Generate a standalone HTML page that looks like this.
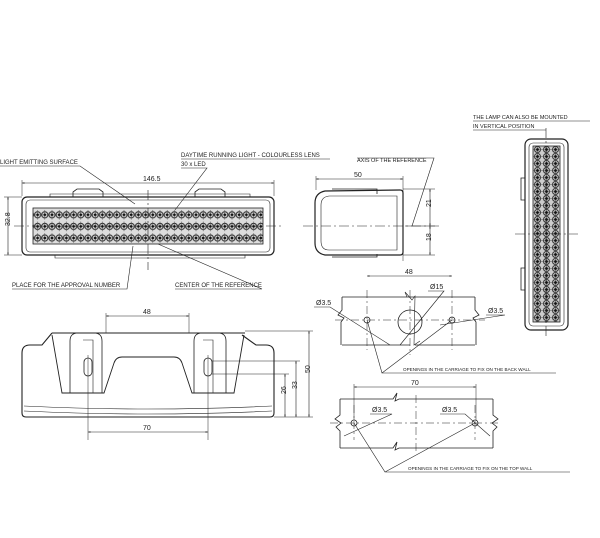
<!DOCTYPE html>
<html><head><meta charset="utf-8"><style>
html,body{margin:0;padding:0;background:#fff;width:600px;height:538px;overflow:hidden}
svg{display:block}
text{font-family:"Liberation Sans",sans-serif;fill:#222}
.t{font-size:6px}
.d{font-size:7px}
</style></head><body>
<svg width="600" height="538" viewBox="0 0 600 538" xmlns="http://www.w3.org/2000/svg">
<defs>
<pattern id="led" x="34" y="209" width="7.2" height="11.6" patternUnits="userSpaceOnUse">
<rect width="7.2" height="11.6" fill="#ddd"/>
<circle cx="3.6" cy="5.8" r="3.1" fill="none" stroke="#333" stroke-width="1.1"/>
<path d="M3.6,1 V10.6 M0,5.8 H7.2" stroke="#555" stroke-width="0.6"/>
<circle cx="3.6" cy="5.8" r="1.3" fill="#111"/>
</pattern>
<pattern id="ledv" x="533" y="146" width="9" height="7" patternUnits="userSpaceOnUse">
<rect width="9" height="7" fill="#ccc"/>
<circle cx="4.5" cy="3.5" r="3" fill="none" stroke="#333" stroke-width="1"/>
<path d="M4.5,0 V7 M0,3.5 H9" stroke="#555" stroke-width="0.6"/>
<circle cx="4.5" cy="3.5" r="1.4" fill="#111"/>
</pattern>
<marker id="a" viewBox="0 0 10 10" refX="10" refY="5" markerWidth="6" markerHeight="4" orient="auto-start-reverse"><path d="M0,2 L10,5 L0,8z" fill="#222"/></marker>
</defs>
<g fill="none" stroke="#222" stroke-width="0.8">
<!-- FRONT VIEW -->
<path d="M73,197 v-5 l4,-3 h22 l4,3 v5 M195,197 v-5 l4,-3 h22 l4,3 v5"/>
<path d="M50,197 v-3 h200 v3" stroke-width="0.6"/>
<rect x="22" y="197" width="252" height="58" rx="5" stroke-width="1.2"/>
<rect x="26" y="200" width="244" height="52" rx="4" stroke-width="0.6"/>
<rect x="33" y="208" width="230" height="36" fill="url(#led)"/>
<path d="M55,255 v3 h190 v-3" stroke-width="0.6"/>
<path d="M14,226 H282 M148,190 V270" stroke-dasharray="10,3,2,3" stroke-width="0.6"/>
<line x1="22" y1="183" x2="274" y2="183" marker-start="url(#a)" marker-end="url(#a)" stroke-width="0.6"/>
<path d="M22,180 v16 M274,180 v16 M4,197 h18 M4,255 h18" stroke-width="0.5"/>
<line x1="8" y1="197" x2="8" y2="255" marker-start="url(#a)" marker-end="url(#a)" stroke-width="0.6"/>
<path d="M0,166 H80 L135,204 M181,159 H330 M181,168 H207 L175,210 M12,289 H127 L133,246 M175,289 H262 L158,244" stroke-width="0.6"/>
<!-- SIDE VIEW -->
<path d="M332,189 h45 v5 M332,257 h45 v-3" stroke-width="0.8"/>
<path d="M325,191 q-10,2 -10,12 v40 q0,10 10,12 h75 q3,0 3,-3 v-59 q0,-3 -3,-3 z" stroke-width="1.2"/>
<path d="M329,196 q-8,1 -8,9 v36 q0,9 8,9 h68 v-54 z" stroke-width="0.6"/>
<path d="M303,226 H440" stroke-dasharray="10,3,2,3" stroke-width="0.6"/>
<line x1="316" y1="179" x2="403" y2="179" marker-start="url(#a)" marker-end="url(#a)" stroke-width="0.6"/>
<path d="M316,176 v14 M403,176 v85 M403,189 h32 M403,255 h32 M405,226 h30" stroke-width="0.5"/>
<line x1="430" y1="189" x2="430" y2="226" marker-start="url(#a)" marker-end="url(#a)" stroke-width="0.6"/>
<line x1="430" y1="226" x2="430" y2="255" marker-start="url(#a)" marker-end="url(#a)" stroke-width="0.6"/>
<path d="M357,158 H434 L412,226" stroke-width="0.6"/>
<!-- VERTICAL LAMP -->
<rect x="525" y="139" width="43" height="191" rx="6" stroke-width="1.2"/>
<rect x="529" y="143" width="35" height="183" rx="4" stroke-width="0.6"/>
<rect x="533" y="146" width="27" height="176" fill="url(#ledv)"/>
<path d="M525,178 h-4 v22 h4 M525,268 h-4 v22 h4" stroke-width="0.8"/>
<path d="M546,128 V336 M515,234 H578" stroke-dasharray="10,3,2,3" stroke-width="0.6"/>
<path d="M473,121 H590 M473,130 H546" stroke-width="0.6"/>
<!-- BACK WALL -->
<path d="M342,297 H475 M342,345 H410 M415,345 H475 M342,297 v13 l-4,5 l6,3 l-3,4 v23 M475,297 v13 l4,5 l-6,3 l3,4 v23"/>
<path d="M407,297 l-2,-5 l7,8 l3,-4 l-1,49 l6,-4" stroke-width="0.6"/>
<circle cx="410" cy="322" r="12"/>
<circle cx="367" cy="320" r="3"/><circle cx="452" cy="320" r="3"/>
<path d="M335,320 H485 M367,290 V350 M452,290 V350 M410,290 V355" stroke-dasharray="8,3,2,3" stroke-width="0.5"/>
<line x1="367" y1="276" x2="452" y2="276" marker-start="url(#a)" marker-end="url(#a)" stroke-width="0.6"/>
<path d="M314,307 H330 L390,345 M428,291 H444 L400,345 M486,315 H505 L440,325 M367,320 L382,373 L452,320 M382,373 H556" stroke-width="0.6"/>
<!-- TOP WALL -->
<path d="M340,399 H393 l4,-6 l-2,8 l4,-2 H493 M340,448 H393 l4,-6 l-2,8 l4,-2 H493 M340,399 v16 l-5,4 l6,4 l-5,4 l4,4 v17 M493,399 v16 l5,4 l-6,4 l5,4 l-4,4 v17"/>
<circle cx="354" cy="423" r="3"/><circle cx="475" cy="423" r="3"/>
<path d="M330,423 H500 M416,395 V452 M354,405 V440 M475,405 V440" stroke-dasharray="8,3,2,3" stroke-width="0.5"/>
<line x1="354" y1="387" x2="476" y2="387" marker-start="url(#a)" marker-end="url(#a)" stroke-width="0.6"/>
<path d="M354,384 v36 M476,384 v36" stroke-width="0.5"/>
<path d="M370,414 H392 L344,436 M440,414 H465 L490,436 M354,423 L385,472 L475,423 M385,472 H570" stroke-width="0.6"/>
<!-- TOP VIEW -->
<path d="M52,333 H245 M30,345 q-8,0 -8,8 v60 q0,4 4,4 h244 q4,0 4,-4 v-60 q0,-8 -8,-8 h-10 l-14,-10 M30,345 h12 l10,-12" stroke-width="1.1"/>
<path d="M24,406 q124,6 248,0 M24,411 q124,6 248,0" stroke-width="0.6"/>
<path d="M52,335 L62,393 h42 l10,-30 q2,-6 8,-6 h52 q6,0 8,6 l10,30 h42 l10,-58" stroke-width="0.9"/>
<path d="M70,393 v-52 q0,-8 8,-8 h16 q8,0 8,8 v52 M194,393 v-52 q0,-8 8,-8 h16 q8,0 8,8 v52" stroke-width="0.8"/>
<path d="M83,340 h10 v53 M203,340 h10 v53" stroke-width="0.6"/>
<rect x="84" y="358" width="8" height="18" rx="4"/><rect x="204" y="358" width="8" height="18" rx="4"/>
<path d="M88,355 V440 M208,355 V440" stroke-width="0.5"/>
<line x1="106" y1="316" x2="189" y2="316" marker-start="url(#a)" marker-end="url(#a)" stroke-width="0.6"/>
<path d="M106,313 v20 M189,313 v20" stroke-width="0.5"/>
<line x1="88" y1="432" x2="208" y2="432" marker-start="url(#a)" marker-end="url(#a)" stroke-width="0.6"/>
<path d="M245,331 H313 M212,361 H300 M212,374 H289 M274,417 H313" stroke-width="0.5"/>
<line x1="309" y1="331" x2="309" y2="417" marker-start="url(#a)" marker-end="url(#a)" stroke-width="0.6"/>
<line x1="296" y1="361" x2="296" y2="417" marker-start="url(#a)" marker-end="url(#a)" stroke-width="0.6"/>
<line x1="285" y1="374" x2="285" y2="417" marker-start="url(#a)" marker-end="url(#a)" stroke-width="0.6"/>
</g>
<g class="t">
<text x="0" y="164">LIGHT EMITTING SURFACE</text>
<text x="181" y="157">DAYTIME RUNNING LIGHT - COLOURLESS LENS</text>
<text x="181" y="166">30 x LED</text>
<text x="12" y="287">PLACE FOR THE APPROVAL NUMBER</text>
<text x="175" y="287">CENTER OF THE REFERENCE</text>
<text x="357" y="162" style="font-size:5.5px">AXIS OF THE REFERENCE</text>
<text x="473" y="119" style="font-size:5.5px">THE LAMP CAN ALSO BE MOUNTED</text>
<text x="473" y="128" style="font-size:5.5px">IN VERTICAL POSITION</text>
<text x="403" y="371" style="font-size:4.6px">OPENINGS IN THE CARRIAGE TO FIX ON THE BACK WALL</text>
<text x="408" y="470" style="font-size:4.6px">OPENINGS IN THE CARRIAGE TO FIX ON THE TOP WALL</text>
</g>
<g class="d">
<text x="143" y="181">146.5</text>
<text x="6" y="230" transform="rotate(-90 6 226)">32.8</text>
<text x="354" y="177">50</text>
<text x="428" y="210" transform="rotate(-90 428 207)">21</text>
<text x="428" y="244" transform="rotate(-90 428 241)">18</text>
<text x="405" y="274">48</text>
<text x="316" y="305">Ø3.5</text>
<text x="430" y="289">Ø15</text>
<text x="488" y="313">Ø3.5</text>
<text x="411" y="385">70</text>
<text x="372" y="412">Ø3.5</text>
<text x="442" y="412">Ø3.5</text>
<text x="143" y="314">48</text>
<text x="143" y="430">70</text>
<text x="307" y="376" transform="rotate(-90 307 373)">50</text>
<text x="294" y="392" transform="rotate(-90 294 389)">33</text>
<text x="283" y="397" transform="rotate(-90 283 394)">26</text>
</g>
</svg>
</body></html>
